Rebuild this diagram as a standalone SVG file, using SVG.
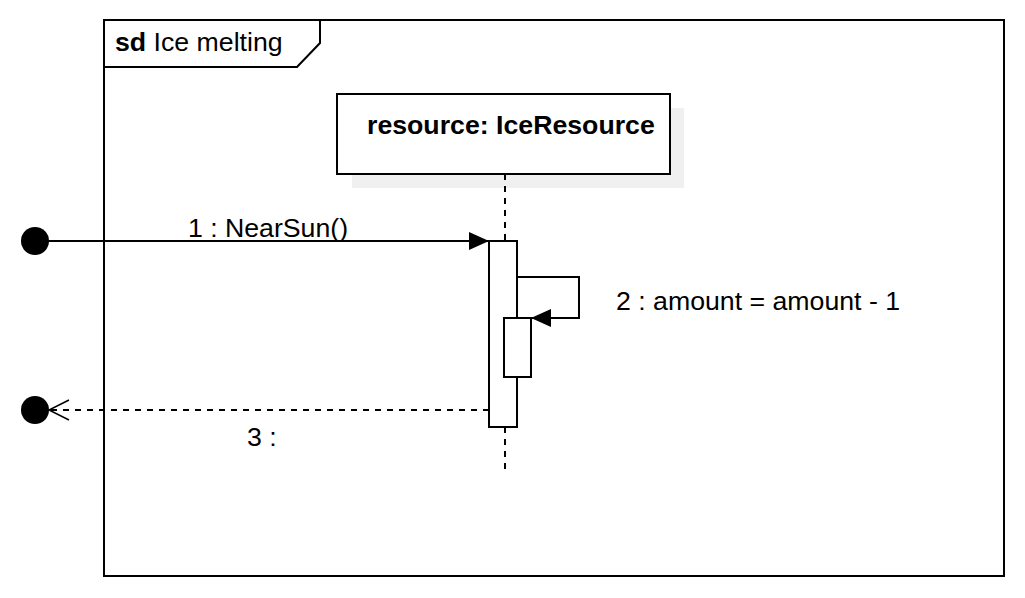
<svg xmlns="http://www.w3.org/2000/svg" width="1025" height="598" viewBox="0 0 1025 598">
<style>
.t{font-family:"Liberation Sans",Arial,sans-serif;font-size:26.7px;fill:#000}
.b{font-weight:bold}
.ln{stroke:#000;stroke-width:2;fill:none}
.box{stroke:#000;stroke-width:2;fill:#fff}
.dash{stroke:#000;stroke-width:2;fill:none;stroke-dasharray:6,6}
</style>
<defs>
<marker id="filled" markerUnits="userSpaceOnUse" markerWidth="22" markerHeight="20" refX="21" refY="10" orient="auto">
<path d="M1,1 L21,10 L1,19 Z" fill="#000"/>
</marker>
<marker id="open" markerUnits="userSpaceOnUse" markerWidth="24" markerHeight="24" refX="22" refY="12" orient="auto">
<path d="M2,2 L22,12 L2,22" fill="none" stroke="#000" stroke-width="1.5"/>
</marker>
</defs>
<rect width="1025" height="598" fill="#fff"/>
<g id="frame">
<rect x="104" y="20" width="900" height="556" class="ln"/>
<path d="M104,67 L297,67 L320,43 L320,20" class="ln"/>
<text x="115" y="51" class="t"><tspan class="b">sd</tspan> Ice melting</text>
</g>
<g id="lifeline-resource">
<rect x="352" y="108" width="332" height="80" fill="#f0f0f0"/>
<rect x="337" y="94" width="333" height="80" class="box"/>
<text x="367" y="134" class="t b">resource: IceResource</text>
<line x1="505" y1="174" x2="505" y2="241" class="dash"/>
<line x1="505" y1="427" x2="505" y2="472" class="dash"/>
<rect x="489" y="241" width="28" height="186" class="box"/>
<rect x="504" y="318" width="27" height="59" class="box"/>
</g>
<g id="start-point">
<circle cx="35" cy="241" r="14" fill="#000"/>
</g>
<g id="end-point">
<circle cx="35" cy="410" r="14" fill="#000"/>
</g>
<g id="connectors">
<line x1="35" y1="241" x2="489" y2="241" class="ln" marker-end="url(#filled)"/>
<text x="268" y="237" class="t" text-anchor="middle">1 : NearSun()</text>
<path d="M517,277 L579,277 L579,318 L531,318" class="ln" marker-end="url(#filled)"/>
<text x="616" y="310" class="t">2 : amount = amount - 1</text>
<line x1="489" y1="410" x2="49" y2="410" class="dash" marker-end="url(#open)"/>
<text x="247" y="446" class="t">3 :</text>
</g>
</svg>
